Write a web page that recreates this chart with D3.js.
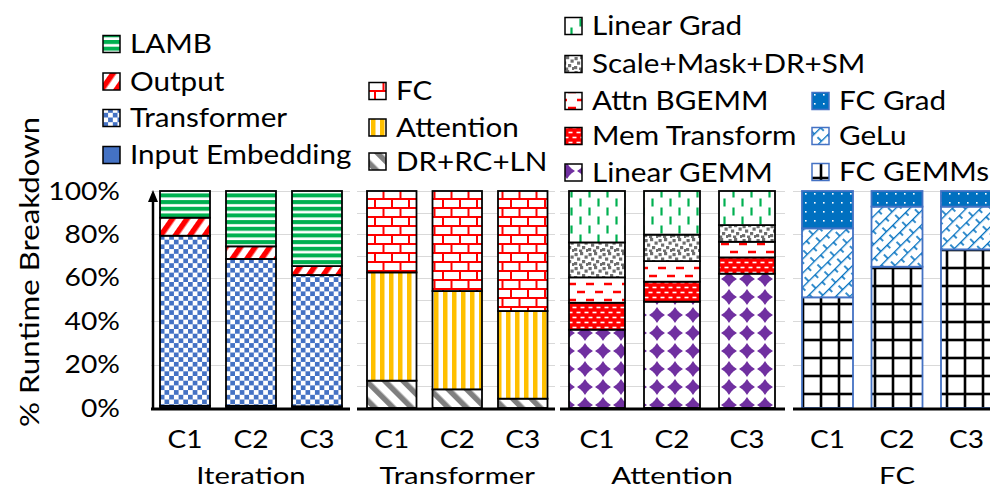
<!DOCTYPE html>
<html><head><meta charset="utf-8">
<script src="https://cdn.jsdelivr.net/npm/d3@7"></script>
<style>html,body{margin:0;padding:0;background:#fff;}svg{display:block;}</style>
</head><body>
<script>
// ---------------- DATA ----------------
const categories = ["C1", "C2", "C3"];
const panelNames = ["Iteration", "Transformer", "Attention", "FC"];
const yTickValues = [0, 20, 40, 60, 80, 100];

// Iteration panel (bottom -> top)
const iterInputEmbedding = [1.0, 1.0, 0.8];
const iterTransformer = [78.4, 67.7, 60.5];
const iterOutput = [8.3, 5.8, 4.1];
const iterLAMB = [12.3, 25.5, 34.6];

// Transformer panel
const trDRRCLN = [12.6, 8.6, 4.3];
const trAttention = [49.9, 45.3, 40.4];
const trFC = [37.5, 46.1, 55.3];

// Attention panel
const attLinearGEMM = [36.1, 49.0, 61.9];
const attMemTransform = [12.4, 9.2, 7.5];
const attAttnBGEMM = [11.7, 9.5, 7.2];
const attScaleMask = [16.1, 12.2, 7.7];
const attLinearGrad = [23.7, 20.1, 15.7];

// FC panel
const fcGEMMs = [51.0, 65.1, 73.1];
const fcGeLu = [31.8, 27.7, 19.7];
const fcGrad = [17.2, 7.2, 7.2];

// ---------------- CHART ----------------
const W = 990, H = 489;
const FONT = "Lato, 'Open Sans', sans-serif";
const svg = d3.select("body").append("svg").attr("width", W).attr("height", H)
  .style("font-family", FONT);
const defs = svg.append("defs");

// place a horizontally widened text
function wtext(sel, x, y, str, size, sx, anchor) {
  return sel.append("text").attr("transform", `translate(${x},${y}) scale(${sx},1)`)
    .attr("text-anchor", anchor || "start").attr("font-size", size).attr("fill", "#000").text(str);
}

function pat(id, w, h, transform) {
  const p = defs.append("pattern").attr("id", id).attr("patternUnits", "userSpaceOnUse")
    .attr("width", w).attr("height", h);
  if (transform) p.attr("patternTransform", transform);
  return p;
}
// LAMB: green horizontal stripes
{ const p = pat("p-lamb", 8, 6.67); p.append("rect").attr("width", 8).attr("height", 6.67).attr("fill", "#fff");
  p.append("rect").attr("width", 8).attr("height", 4).attr("fill", "#00B050"); }
// Output: red diagonal stripes
{ const p = pat("p-output", 12, 12, "rotate(35)"); p.append("rect").attr("width", 12).attr("height", 12).attr("fill", "#fff");
  p.append("rect").attr("width", 5.5).attr("height", 12).attr("fill", "#FF0000"); }
// Transformer: blue checkerboard
{ const p = pat("p-transformer", 9.4, 9.4); p.append("rect").attr("width", 9.4).attr("height", 9.4).attr("fill", "#fff");
  p.append("rect").attr("width", 4.7).attr("height", 4.7).attr("fill", "#4472C4");
  p.append("rect").attr("x", 4.7).attr("y", 4.7).attr("width", 4.7).attr("height", 4.7).attr("fill", "#4472C4"); }
// FC (transformer panel): red brick
{ const p = pat("p-brick", 17, 18); p.append("rect").attr("width", 17).attr("height", 18).attr("fill", "#fff");
  const g = p.append("g").attr("stroke", "#FF0000").attr("stroke-width", 2);
  g.append("line").attr("x1", 0).attr("x2", 17).attr("y1", 1).attr("y2", 1);
  g.append("line").attr("x1", 0).attr("x2", 17).attr("y1", 10).attr("y2", 10);
  g.append("line").attr("x1", 1).attr("x2", 1).attr("y1", 1).attr("y2", 10);
  g.append("line").attr("x1", 9.5).attr("x2", 9.5).attr("y1", 10).attr("y2", 19); }
// Attention (transformer panel): yellow vertical stripes
{ const p = pat("p-yellow", 9, 10); p.append("rect").attr("width", 9).attr("height", 10).attr("fill", "#fff");
  p.append("rect").attr("x", 2).attr("width", 4.5).attr("height", 10).attr("fill", "#FFC000"); }
// DR+RC+LN: gray diagonal stripes
{ const p = pat("p-gray", 13, 13, "rotate(-45)"); p.append("rect").attr("width", 13).attr("height", 13).attr("fill", "#fff");
  p.append("rect").attr("width", 5.5).attr("height", 13).attr("fill", "#7F7F7F"); }
// Linear Grad: green vertical dashes
{ const p = pat("p-lgrad", 18, 18); p.append("rect").attr("width", 18).attr("height", 18).attr("fill", "#fff");
  const g = p.append("g").attr("stroke", "#00B050").attr("stroke-width", 2.2);
  g.append("line").attr("x1", 4.5).attr("x2", 4.5).attr("y1", 0.5).attr("y2", 8.5);
  g.append("line").attr("x1", 13.5).attr("x2", 13.5).attr("y1", 9.5).attr("y2", 17.5); }
// Scale+Mask+DR+SM: gray squares confetti
{ const p = pat("p-confetti", 14, 14); p.append("rect").attr("width", 14).attr("height", 14).attr("fill", "#fff");
  const sq = [[0.5,1],[6,0],[10.5,3.5],[3,5.5],[8,8],[0,10],[12,11],[5,11.5]];
  p.selectAll("rect.s").data(sq).enter().append("rect").attr("class", "s")
    .attr("x", d => d[0]).attr("y", d => d[1]).attr("width", 3.2).attr("height", 3.2).attr("fill", "#6F6F6F"); }
// Attn BGEMM: red horizontal dashes
{ const p = pat("p-bgemm", 18, 16); p.append("rect").attr("width", 18).attr("height", 16).attr("fill", "#fff");
  const g = p.append("g").attr("stroke", "#FF0000").attr("stroke-width", 2.5);
  g.append("line").attr("x1", 1).attr("x2", 9).attr("y1", 4).attr("y2", 4);
  g.append("line").attr("x1", 10).attr("x2", 18).attr("y1", 12).attr("y2", 12); }
// Mem Transform: red with small white dashes
{ const p = pat("p-mem", 8, 10); p.append("rect").attr("width", 8).attr("height", 10).attr("fill", "#FF0000");
  const g = p.append("g").attr("stroke", "#fff").attr("stroke-width", 1.6);
  g.append("line").attr("x1", 0.5).attr("x2", 4.5).attr("y1", 2.5).attr("y2", 2.5);
  g.append("line").attr("x1", 4.5).attr("x2", 8).attr("y1", 7.5).attr("y2", 7.5);
  g.append("line").attr("x1", 0).attr("x2", 0.5).attr("y1", 7.5).attr("y2", 7.5); }
// Linear GEMM: purple four-point stars
{ const p = pat("p-star", 18, 18); p.append("rect").attr("width", 18).attr("height", 18).attr("fill", "#fff");
  const c = 9, ro = 8, ri = 4.6; const pts = [];
  for (let i = 0; i < 8; i++) { const a = i * Math.PI / 4 - Math.PI / 2; const r = i % 2 ? ri : ro; pts.push([c + r * Math.cos(a), c + r * Math.sin(a)]); }
  p.append("path").attr("d", d3.line()(pts) + "Z").attr("fill", "#7030A0");
  p.append("circle").attr("cx", c).attr("cy", c).attr("r", 4.8).attr("fill", "#7030A0"); }
// FC Grad: blue with white dots
{ const p = pat("p-fcgrad", 9, 9); p.append("rect").attr("width", 9).attr("height", 9).attr("fill", "#0070C0");
  p.append("rect").attr("x", 4).attr("y", 4).attr("width", 1.6).attr("height", 1.6).attr("fill", "#fff"); }
// GeLu: blue diagonal brick
{ const p = pat("p-gelu", 18, 10, "rotate(-45)"); p.append("rect").attr("width", 18).attr("height", 10).attr("fill", "#fff");
  const g = p.append("g").attr("stroke", "#0070C0").attr("stroke-width", 1.6);
  g.append("line").attr("x1", 0).attr("x2", 18).attr("y1", 0.5).attr("y2", 0.5);
  g.append("line").attr("x1", 4).attr("x2", 4).attr("y1", 0).attr("y2", 5);
  g.append("line").attr("x1", 13).attr("x2", 13).attr("y1", 5).attr("y2", 10); }
// FC GEMMs: black grid
{ const p = pat("p-grid", 18, 18); p.append("rect").attr("width", 18).attr("height", 18).attr("fill", "#fff");
  const g = p.append("g").attr("stroke", "#000").attr("stroke-width", 2.6);
  g.append("line").attr("x1", 0).attr("x2", 18).attr("y1", 16).attr("y2", 16);
  g.append("line").attr("x1", 11).attr("x2", 11).attr("y1", 0).attr("y2", 18); }

const panels = [
  { name: panelNames[0], series: [
      { label: "Input Embedding", values: iterInputEmbedding, fill: "#4472C4" },
      { label: "Transformer", values: iterTransformer, fill: "url(#p-transformer)" },
      { label: "Output", values: iterOutput, fill: "url(#p-output)" },
      { label: "LAMB", values: iterLAMB, fill: "url(#p-lamb)" }],
    layout: { barLeft: 160, step: 66, bw: 50, ax0: 151, ax1: 350, grid: 20, stroke: "#000",
      legX: 103, legYs: [155, 118, 81.5, 44] } },
  { name: panelNames[1], series: [
      { label: "DR+RC+LN", values: trDRRCLN, fill: "url(#p-gray)" },
      { label: "Attention", values: trAttention, fill: "url(#p-yellow)" },
      { label: "FC", values: trFC, fill: "url(#p-brick)" }],
    layout: { barLeft: 367, step: 65.5, bw: 49.5, ax0: 357, ax1: 555, grid: 10, stroke: "#000",
      legX: 369, legYs: [161.5, 127.5, 91] } },
  { name: panelNames[2], series: [
      { label: "Linear GEMM", values: attLinearGEMM, fill: "url(#p-star)" },
      { label: "Mem Transform", values: attMemTransform, fill: "url(#p-mem)" },
      { label: "Attn BGEMM", values: attAttnBGEMM, fill: "url(#p-bgemm)" },
      { label: "Scale+Mask+DR+SM", values: attScaleMask, fill: "url(#p-confetti)" },
      { label: "Linear Grad", values: attLinearGrad, fill: "url(#p-lgrad)" }],
    layout: { barLeft: 569, step: 75, bw: 56, ax0: 560, ax1: 785, grid: 10, stroke: "#000",
      legX: 565, legYs: [172.5, 136, 101, 64, 26] } },
  { name: panelNames[3], series: [
      { label: "FC GEMMs", values: fcGEMMs, fill: "url(#p-grid)" },
      { label: "GeLu", values: fcGeLu, fill: "url(#p-gelu)" },
      { label: "FC Grad", values: fcGrad, fill: "url(#p-fcgrad)" }],
    layout: { barLeft: 802, step: 69.5, bw: 51, ax0: 793, ax1: 990, grid: 20, stroke: "#4472C4",
      legX: 812, legYs: [172, 136, 101] } }
];

const y = d3.scaleLinear().domain([0, 100]).range([408, 191]);

panels.forEach((P, pi) => {
  const L = P.layout;
  const gap = L.step - L.bw;
  const r0 = L.barLeft - gap / 2;
  const x = d3.scaleBand().domain(categories).range([r0, r0 + 3 * L.step])
    .paddingInner(gap / L.step).paddingOuter(gap / (2 * L.step));
  const g = svg.append("g");

  // gridlines
  const gridVals = d3.range(L.grid, 101, L.grid);
  g.append("g").selectAll("line").data(gridVals).enter().append("line")
    .attr("x1", L.ax0).attr("x2", L.ax1).attr("y1", d => Math.round(y(d)) + 0.5).attr("y2", d => Math.round(y(d)) + 0.5)
    .attr("stroke", "#D9D9D9").attr("stroke-width", 1);

  // stacked bars
  const keys = P.series.map(s => s.label);
  const rows = categories.map((c, i) => { const o = { cat: c }; P.series.forEach(s => o[s.label] = s.values[i]); return o; });
  const stacked = d3.stack().keys(keys)(rows);
  stacked.forEach((layer, li) => {
    g.append("g").selectAll("rect").data(layer).enter().append("rect")
      .attr("x", d => x(d.data.cat)).attr("width", x.bandwidth())
      .attr("y", d => y(d[1])).attr("height", d => y(d[0]) - y(d[1]))
      .attr("fill", P.series[li].fill).attr("stroke", L.stroke).attr("stroke-width", 1.8);
  });

  // baseline
  g.append("line").attr("x1", L.ax0).attr("x2", L.ax1).attr("y1", 409).attr("y2", 409)
    .attr("stroke", "#000").attr("stroke-width", 3);

  // category labels
  const xa = g.append("g").attr("transform", "translate(0,409)")
    .call(d3.axisBottom(x).tickSize(0).tickPadding(21));
  xa.select(".domain").remove();
  xa.selectAll("text").attr("font-size", 25).attr("font-family", FONT).attr("fill", "#000")
    .attr("dy", "0.71em").attr("transform", "scale(1.12,1)");
  wtext(g, x("C2") + x.bandwidth() / 2, 484, P.name, 24, 1.22, "middle");

  // legend
  const leg = g.append("g");
  P.series.forEach((s, si) => {
    const cy = L.legYs[si];
    leg.append("rect").attr("x", L.legX).attr("y", cy - 8.5).attr("width", 17).attr("height", 17)
      .attr("fill", s.fill).attr("stroke", pi === 3 ? "#4472C4" : "#000").attr("stroke-width", 1.5);
    wtext(leg, L.legX + 27, cy, s.label, 26, 1.14, "start").attr("dy", "0.36em");
  });
});

// y axis
const ya = svg.append("g").attr("transform", "translate(153,0)")
  .call(d3.axisLeft(y).tickValues(yTickValues).tickSize(0).tickPadding(33).tickFormat(d => d + "%"));
ya.select(".domain").remove();
const ysx = 1.13;
ya.selectAll("text").attr("font-size", 25).attr("font-family", FONT).attr("fill", "#000")
  .attr("x", function () { return +d3.select(this).attr("x") / ysx; })
  .attr("transform", `scale(${ysx},1)`);
svg.append("line").attr("x1", 153).attr("x2", 153).attr("y1", 410).attr("y2", 200)
  .attr("stroke", "#000").attr("stroke-width", 2.5);
svg.append("path").attr("d", "M153,190 L148,202 L158,202 Z").attr("fill", "#000");

svg.append("text").attr("transform", "translate(39,272) rotate(-90) scale(1.2,1)").attr("text-anchor", "middle")
  .attr("font-size", 26).attr("fill", "#000").text("% Runtime Breakdown");
</script>
</body></html>
